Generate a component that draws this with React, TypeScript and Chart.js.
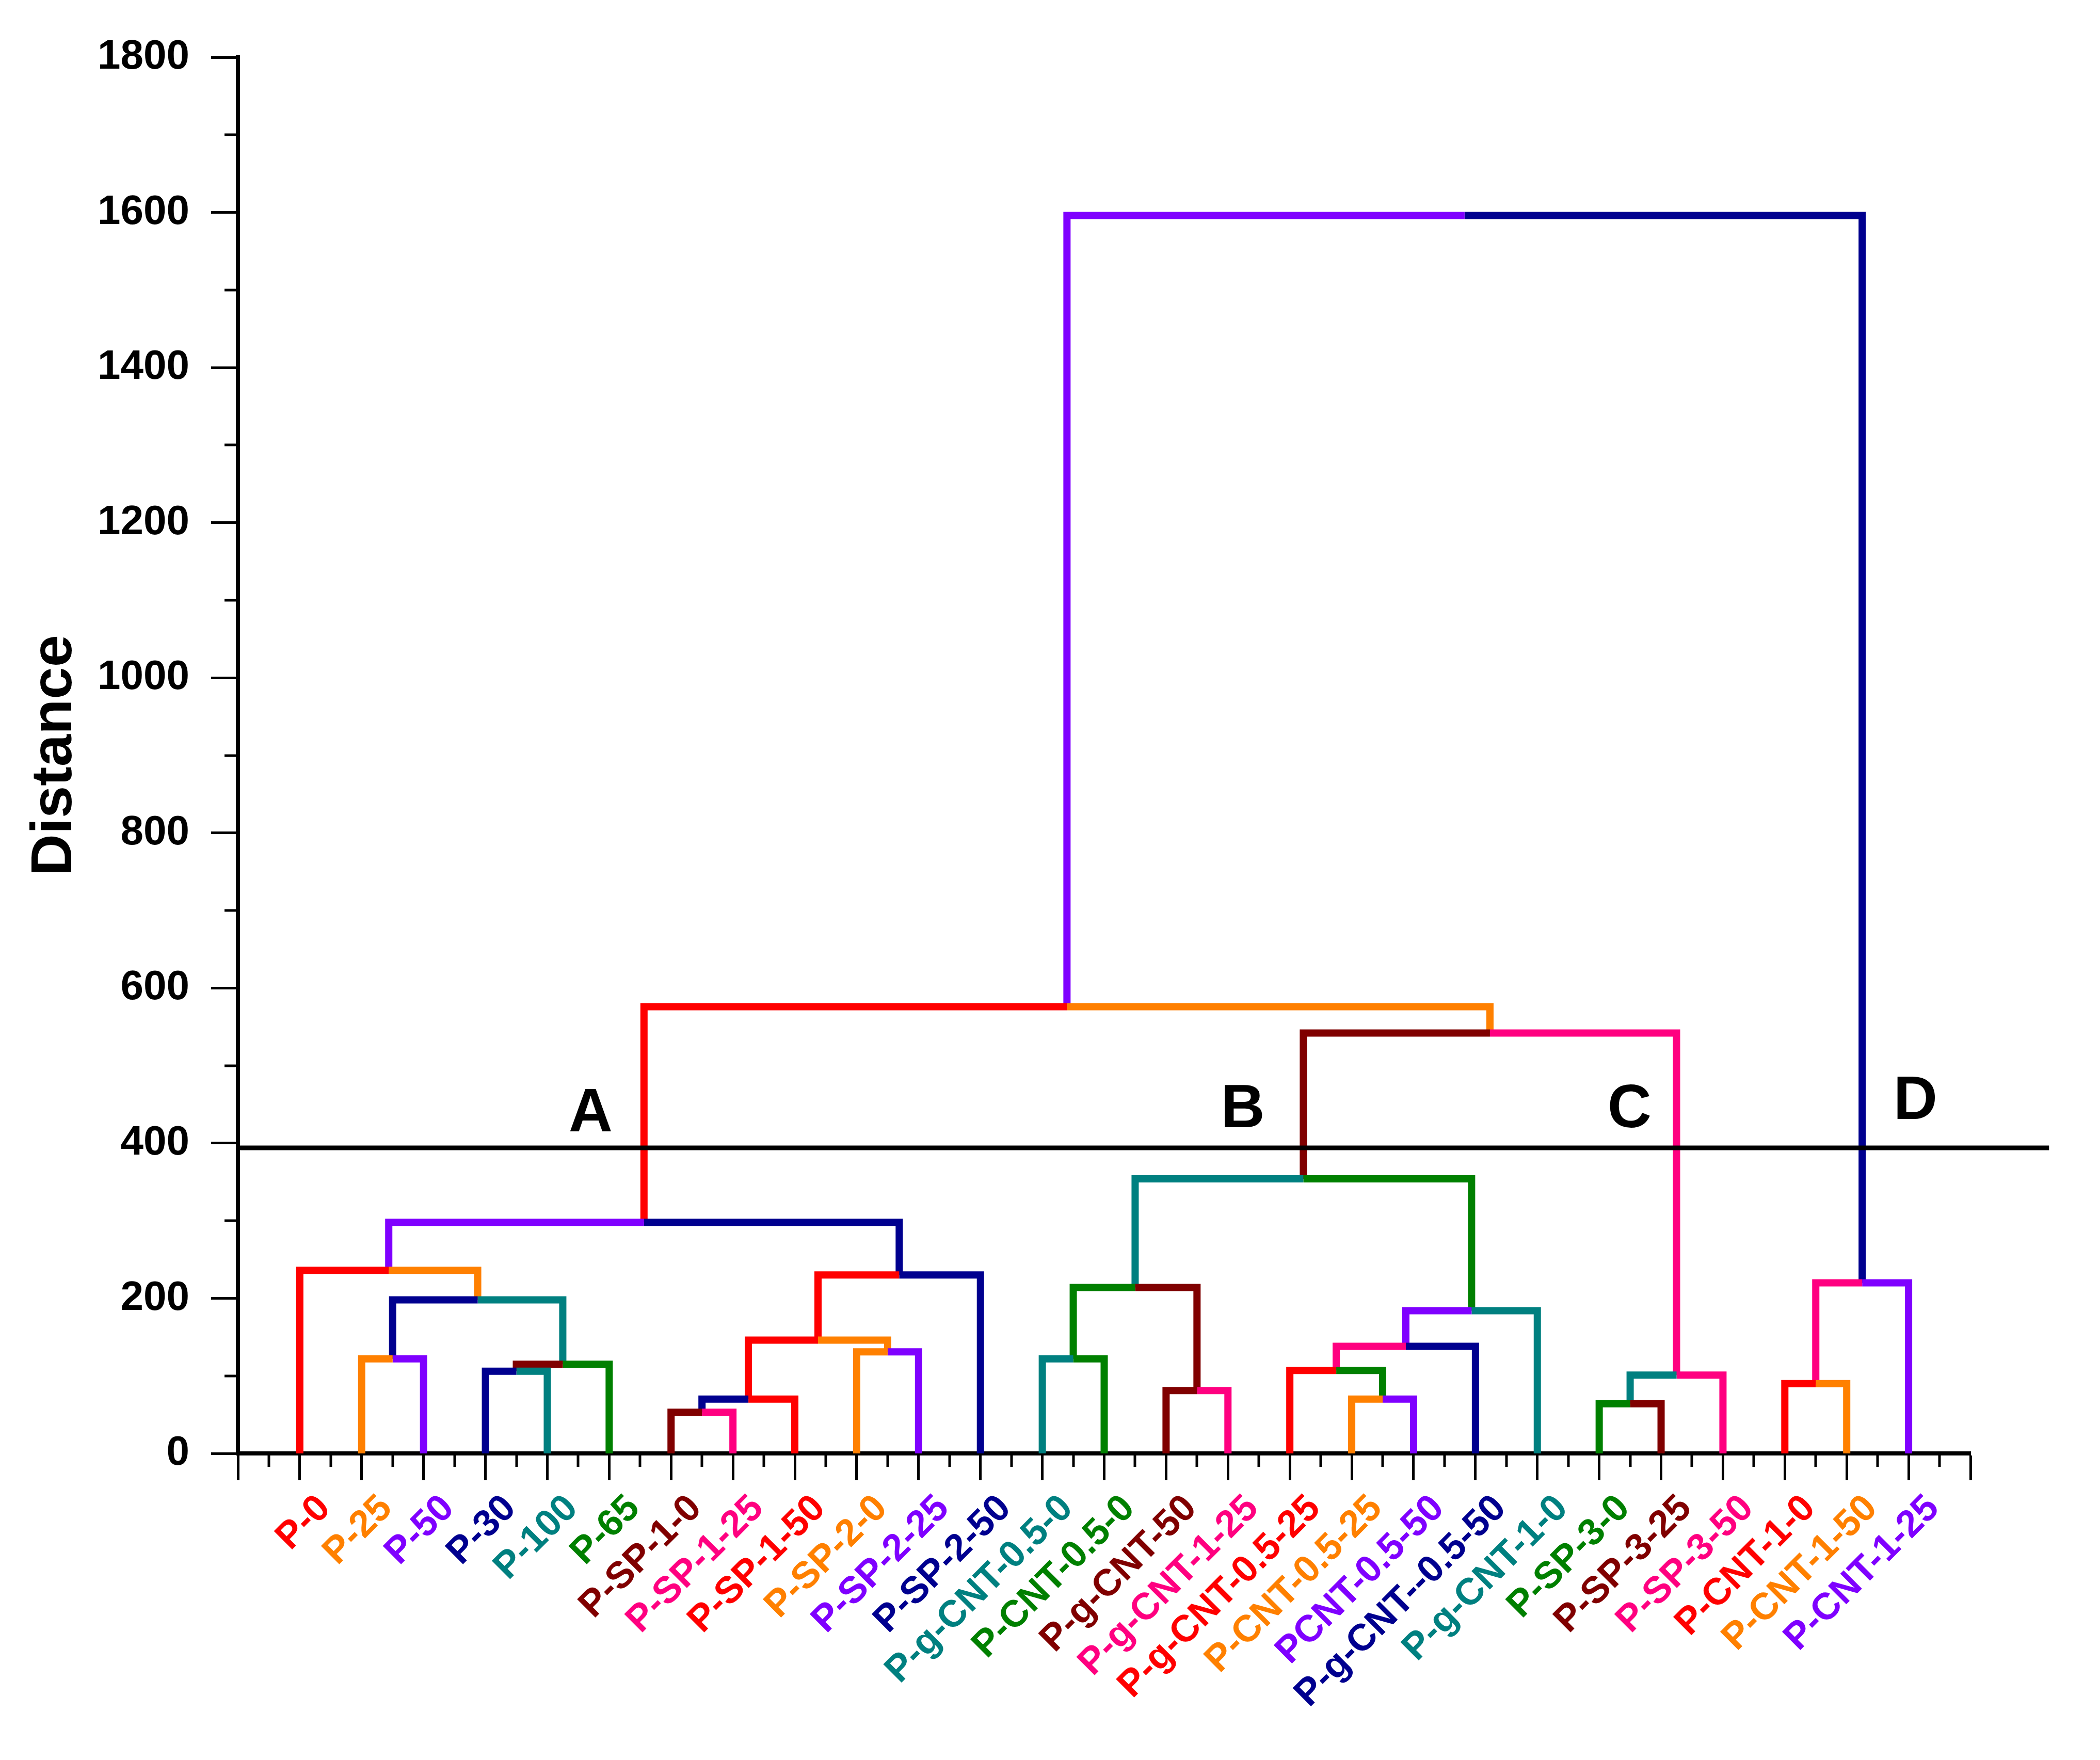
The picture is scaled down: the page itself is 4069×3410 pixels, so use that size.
import React, { useEffect, useRef } from 'react';
import { Chart, registerables } from 'chart.js';

Chart.register(...registerables);

// ---------- data ----------
const leafLabels = [
  'P-0', 'P-25', 'P-50', 'P-30', 'P-100', 'P-65',
  'P-SP-1-0', 'P-SP-1-25', 'P-SP-1-50', 'P-SP-2-0', 'P-SP-2-25', 'P-SP-2-50',
  'P-g-CNT-0.5-0', 'P-CNT-0.5-0', 'P-g-CNT-50', 'P-g-CNT-1-25', 'P-g-CNT-0.5-25',
  'P-CNT-0.5-25', 'PCNT-0.5-50', 'P-g-CNT--0.5-50', 'P-g-CNT-1-0',
  'P-SP-3-0', 'P-SP-3-25', 'P-SP-3-50', 'P-CNT-1-0', 'P-CNT-1-50', 'P-CNT-1-25',
];

const leafColorNames = [
  'red', 'orange', 'purple', 'navy', 'teal', 'green', 'darkred', 'pink',
  'red', 'orange', 'purple', 'navy', 'teal', 'green', 'darkred', 'pink',
  'red', 'orange', 'purple', 'navy', 'teal', 'green', 'darkred', 'pink',
  'red', 'orange', 'purple',
];

const palette: Record<string, string> = {
  red: '#ff0000',
  orange: '#ff8000',
  purple: '#7f00ff',
  navy: '#00008f',
  teal: '#008080',
  green: '#008000',
  darkred: '#800000',
  pink: '#ff0080',
};

// merges: ids 0..26 are leaves, 27.. are merge nodes (in order)
const mergeLeft = [1, 3, 28, 27, 0, 6, 32, 9, 33, 35, 31, 12, 14, 38, 17, 16, 42, 43, 40, 21, 46, 45, 37, 24, 50, 49];
const mergeRight = [2, 4, 5, 29, 30, 7, 8, 10, 34, 11, 36, 13, 15, 39, 18, 41, 19, 20, 44, 22, 23, 47, 48, 25, 26, 51];
const mergeHeight = [122, 106, 115, 198, 236, 53, 70, 131, 146, 230, 298, 122, 81, 214, 70, 107, 138, 184, 354, 64, 101, 542, 576, 90, 220, 1596];
const leftBranchColors = [
  'orange', 'navy', 'darkred', 'navy', 'red', 'darkred', 'navy', 'orange', 'red', 'red', 'purple',
  'teal', 'darkred', 'green', 'orange', 'red', 'pink', 'purple', 'teal',
  'green', 'teal', 'darkred', 'red', 'red', 'pink', 'purple',
];
const rightBranchColors = [
  'purple', 'teal', 'green', 'teal', 'orange', 'pink', 'red', 'purple', 'orange', 'navy', 'navy',
  'green', 'pink', 'darkred', 'purple', 'green', 'navy', 'teal', 'green',
  'darkred', 'pink', 'pink', 'orange', 'orange', 'purple', 'navy',
];

const cutHeight = 394;
const cutLineStart = 0;
const cutLineEnd = 29.27;

const clusterNames = ['A', 'B', 'C', 'D'];
const clusterX = [5.7, 16.24, 22.49, 27.11];
const clusterY = [437, 442, 442, 453];

const yTickValues = [0, 200, 400, 600, 800, 1000, 1200, 1400, 1600, 1800];
const yMinorValues = [100, 300, 500, 700, 900, 1100, 1300, 1500, 1700];
const xTickValues = [0, 1, 2, 3, 4, 5, 6, 7, 8, 9, 10, 11, 12, 13, 14, 15, 16, 17, 18, 19, 20, 21, 22, 23, 24, 25, 26, 27, 28];
const xMinorValues = [0.5, 1.5, 2.5, 3.5, 4.5, 5.5, 6.5, 7.5, 8.5, 9.5, 10.5, 11.5, 12.5, 13.5, 14.5, 15.5, 16.5, 17.5, 18.5, 19.5, 20.5, 21.5, 22.5, 23.5, 24.5, 25.5, 26.5, 27.5];

// ---------- layout constants ----------
const W = 4069;
const H = 3410;
const FONT = '"Liberation Sans", Arial, sans-serif';

function buildSegments() {
  const nodeX: number[] = leafLabels.map((_, i) => i + 1);
  const nodeH: number[] = leafLabels.map(() => 0);
  const segs: { color: string; pts: { x: number; y: number }[] }[] = [];
  mergeHeight.forEach((h, k) => {
    const l = mergeLeft[k];
    const r = mergeRight[k];
    const xm = (nodeX[l] + nodeX[r]) / 2;
    segs.push({
      color: palette[leftBranchColors[k]],
      pts: [
        { x: nodeX[l], y: nodeH[l] },
        { x: nodeX[l], y: h },
        { x: xm, y: h },
      ],
    });
    segs.push({
      color: palette[rightBranchColors[k]],
      pts: [
        { x: nodeX[r], y: nodeH[r] },
        { x: nodeX[r], y: h },
        { x: xm, y: h },
      ],
    });
    nodeX.push(xm);
    nodeH.push(h);
  });
  return segs;
}

const extrasPlugin = {
  id: 'extras',
  afterDraw(chart: any) {
    const { ctx, chartArea } = chart;
    const x = chart.scales.x;
    const y = chart.scales.y;
    ctx.save();
    ctx.strokeStyle = '#000';
    ctx.lineWidth = 5;
    yMinorValues.forEach((v) => {
      const py = Math.round(y.getPixelForValue(v));
      ctx.beginPath();
      ctx.moveTo(chartArea.left - 26, py);
      ctx.lineTo(chartArea.left, py);
      ctx.stroke();
    });
    xMinorValues.forEach((v) => {
      const px = Math.round(x.getPixelForValue(v));
      ctx.beginPath();
      ctx.moveTo(px, chartArea.bottom);
      ctx.lineTo(px, chartArea.bottom + 26);
      ctx.stroke();
    });
    ctx.fillStyle = '#000';
    ctx.font = `bold 118px ${FONT}`;
    ctx.textAlign = 'center';
    ctx.textBaseline = 'middle';
    clusterNames.forEach((t, i) => {
      ctx.fillText(t, x.getPixelForValue(clusterX[i]), y.getPixelForValue(clusterY[i]));
    });
    ctx.restore();
  },
};

export default function App() {
  const ref = useRef<HTMLCanvasElement | null>(null);

  useEffect(() => {
    if (!ref.current) return;
    const segs = buildSegments();
    const datasets: any[] = [
      {
        label: 'cut',
        data: [
          { x: cutLineStart, y: cutHeight },
          { x: cutLineEnd, y: cutHeight },
        ],
        borderColor: '#000',
        borderWidth: 9,
        pointRadius: 0,
        fill: false,
        clip: false,
        borderCapStyle: 'butt',
      },
      ...segs.map((s, i) => ({
        label: 'branch' + i,
        data: s.pts,
        borderColor: s.color,
        borderWidth: 14,
        pointRadius: 0,
        fill: false,
        tension: 0,
        borderJoinStyle: 'miter',
        borderCapStyle: 'butt',
      })),
    ];

    const chart = new Chart(ref.current, {
      type: 'line',
      data: { datasets },
      plugins: [extrasPlugin],
      options: {
        animation: false,
        responsive: false,
        devicePixelRatio: 1,
        events: [],
        layout: { padding: { top: 111, right: 251, bottom: 0, left: 0 } },
        plugins: { legend: { display: false }, tooltip: { enabled: false } },
        scales: {
          x: {
            type: 'linear',
            min: 0,
            max: 28,
            afterBuildTicks: (scale: any) => {
              scale.ticks = xTickValues.map((v) => ({ value: v }));
            },
            afterFit: (scale: any) => {
              scale.height = H - 2816;
            },
            border: { display: true, color: '#000', width: 8 },
            grid: { drawOnChartArea: false, drawTicks: true, tickLength: 52, tickWidth: 5, tickColor: '#000' },
            ticks: {
              autoSkip: false,
              minRotation: 45,
              maxRotation: 45,
              padding: 12,
              labelOffset: 48,
              font: { size: 73, weight: 'bold', family: FONT },
              color: (ctx: any) => {
                const v = ctx.tick ? ctx.tick.value : 0;
                const name = leafColorNames[v - 1];
                return name ? palette[name] : '#000';
              },
              callback: (v: any) => leafLabels[Number(v) - 1] ?? '',
            },
          },
          y: {
            type: 'linear',
            min: 0,
            max: 1800,
            afterBuildTicks: (scale: any) => {
              scale.ticks = yTickValues.map((v) => ({ value: v }));
            },
            afterFit: (scale: any) => {
              scale.width = 461;
            },
            border: { display: true, color: '#000', width: 8 },
            grid: { drawOnChartArea: false, drawTicks: true, tickLength: 52, tickWidth: 5, tickColor: '#000' },
            ticks: {
              padding: 42,
              color: '#000',
              font: { size: 80, weight: 'bold', family: FONT },
              callback: (v: any) => String(v),
            },
            title: {
              display: true,
              text: 'Distance',
              color: '#000',
              font: { size: 112, weight: 'bold', family: FONT },
              padding: { top: 40, bottom: 0 },
            },
          },
        },
      } as any,
    });
    return () => chart.destroy();
  }, []);

  return (
    <div style={{ position: 'fixed', left: 0, top: 0, width: W, height: H, background: '#fff' }}>
      <canvas ref={ref} width={W} height={H} style={{ display: 'block', width: W, height: H }} />
    </div>
  );
}
